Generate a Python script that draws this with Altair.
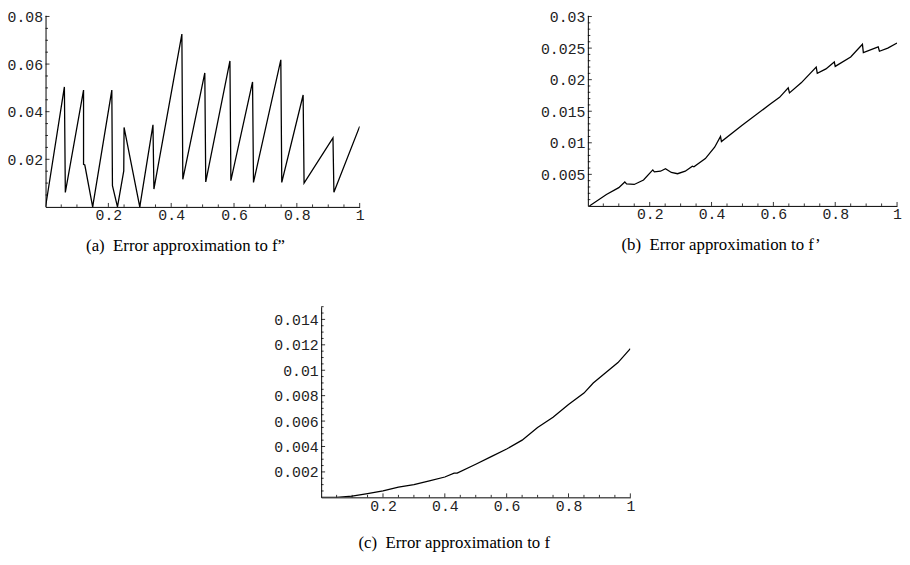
import altair as alt
import pandas as pd

# ---------------- data ----------------
# (a) Error approximation to f''
a_x = [0.0, 0.060, 0.063, 0.121, 0.121, 0.125, 0.150, 0.211, 0.213, 0.229, 0.249, 0.250,
       0.300, 0.342, 0.345, 0.434, 0.437, 0.507, 0.510, 0.587, 0.590, 0.659, 0.662,
       0.749, 0.752, 0.820, 0.823, 0.915, 0.918, 1.0]
a_y = [0.0, 0.0504, 0.0061, 0.0491, 0.0179, 0.0176, 0.0, 0.0491, 0.0089, 0.0, 0.0151, 0.0334,
       0.0, 0.0345, 0.0075, 0.0726, 0.0116, 0.0563, 0.0105, 0.0613, 0.0110, 0.0525, 0.0103,
       0.0618, 0.0103, 0.0470, 0.0100, 0.0290, 0.0062, 0.0338]

# (b) Error approximation to f'
b_x = [0.005, 0.06, 0.10, 0.1195, 0.125, 0.15, 0.18, 0.21, 0.215, 0.235, 0.251, 0.27, 0.29,
       0.315, 0.338, 0.343, 0.38, 0.41, 0.429, 0.432, 0.50, 0.589, 0.62, 0.648, 0.652, 0.69,
       0.7385, 0.742, 0.77, 0.797, 0.800, 0.85, 0.888, 0.891, 0.939, 0.943, 0.97, 1.0]
b_y = [0.0, 0.0018, 0.0029, 0.0038, 0.0035, 0.0034, 0.0041, 0.0057, 0.0054, 0.0055, 0.0059,
       0.0053, 0.0051, 0.0055, 0.0063, 0.0062, 0.0075, 0.0093, 0.0110, 0.0102, 0.0128, 0.0161,
       0.0172, 0.0187, 0.0179, 0.0195, 0.0220, 0.0210, 0.0217, 0.0228, 0.0221, 0.0236, 0.0256,
       0.0243, 0.0252, 0.0245, 0.0250, 0.0258]

# (c) Error approximation to f
c_x = [0.0, 0.05, 0.10, 0.15, 0.20, 0.25, 0.30, 0.35, 0.40, 0.43, 0.44, 0.50, 0.55, 0.60,
       0.65, 0.70, 0.75, 0.80, 0.85, 0.88, 0.92, 0.96, 1.0]
c_y = [0.0, 0.0, 0.0001, 0.0003, 0.0005, 0.0008, 0.0010, 0.0013, 0.0016, 0.0019, 0.0019,
       0.0026, 0.0032, 0.0038, 0.0045, 0.0055, 0.0063, 0.0073, 0.0082, 0.0090, 0.0098,
       0.0106, 0.0117]

x_labels = [0.2, 0.4, 0.6, 0.8, 1.0]
a_ylabels = [0.02, 0.04, 0.06, 0.08]
b_ylabels = [0.005, 0.01, 0.015, 0.02, 0.025, 0.03]
c_ylabels = [0.002, 0.004, 0.006, 0.008, 0.01, 0.012, 0.014]

GAP = "\u00a0\u00a0"
captions = ["(a)" + GAP + "Error approximation to f\u201d",
            "(b)" + GAP + "Error approximation to f\u2019",
            "(c)" + GAP + "Error approximation to f"]

MONO = "Liberation Mono"
SERIF = "Liberation Serif"


def minor(step, top, majors):
    out = []
    k = 1
    while k * step <= top + 1e-12:
        v = round(k * step, 6)
        if all(abs(v - m) > 1e-9 for m in majors):
            out.append(v)
        k += 1
    return out


def panel(xs_, ys_, ytop, ylabels, ystep, W, H, caption, cap_offset):
    df = pd.DataFrame({"x": xs_, "y": ys_, "i": list(range(len(xs_)))})
    xsc = alt.Scale(domain=[0, 1], nice=False, zero=False)
    ysc = alt.Scale(domain=[0, ytop], nice=False, zero=False)
    common = dict(format="~g", ticks=False, grid=False, title=None,
                  labelFont=MONO, labelFontSize=15, labelColor="#222222",
                  domainColor="#000000", domainWidth=1, labelFlush=False,
                  labelOverlap=False)
    xax = alt.Axis(values=x_labels, labelPadding=1, **common)
    yax = alt.Axis(values=ylabels, labelPadding=3, **common)
    line = alt.Chart(df).mark_line(color="black", strokeWidth=1.3, clip=True).encode(
        x=alt.X("x:Q", scale=xsc, axis=xax),
        y=alt.Y("y:Q", scale=ysc, axis=yax),
        order="i:Q",
    )
    xmaj = pd.DataFrame({"x": x_labels})
    xmin = pd.DataFrame({"x": minor(0.05, 1.0, x_labels)})
    ymaj = pd.DataFrame({"y": ylabels})
    ymin = pd.DataFrame({"y": minor(ystep, ytop, ylabels)})
    rule = dict(color="black", strokeWidth=0.8)
    l1 = alt.Chart(xmaj).mark_rule(**rule).encode(
        x=alt.X("x:Q", scale=xsc, axis=xax), y=alt.value(H), y2=alt.value(H - 4))
    l2 = alt.Chart(xmin).mark_rule(**rule).encode(
        x=alt.X("x:Q", scale=xsc, axis=xax), y=alt.value(H), y2=alt.value(H - 2.5))
    l3 = alt.Chart(ymaj).mark_rule(**rule).encode(
        y=alt.Y("y:Q", scale=ysc, axis=yax), x=alt.value(0), x2=alt.value(4))
    l4 = alt.Chart(ymin).mark_rule(**rule).encode(
        y=alt.Y("y:Q", scale=ysc, axis=yax), x=alt.value(0), x2=alt.value(2.5))
    return alt.layer(line, l1, l2, l3, l4).properties(
        width=W, height=H,
        title=alt.TitleParams(text=caption, orient="bottom", anchor="middle",
                              frame="bounds", font=SERIF, fontSize=17,
                              fontWeight="normal", color="black", offset=cap_offset),
    )


pa = panel(a_x, a_y, 0.0805, a_ylabels, 0.005, 318, 194, captions[0], 16)
pb = panel(b_x, b_y, 0.0302, b_ylabels, 0.001, 313, 193, captions[1], 16)
pc = panel(c_x, c_y, 0.0150, c_ylabels, 0.0005, 313, 193, captions[2], 22)

# invisible spacer that pushes panel (c) to its place under the two upper panels
spacer = alt.Chart(pd.DataFrame({"v": [0]})).mark_point(opacity=0).encode(
    x=alt.value(0), y=alt.value(0)
).properties(width=230, height=10)

row = alt.hconcat(pa, pb, spacing=177)
bottom = alt.hconcat(spacer, pc, spacing=0)
chart = alt.vconcat(row, bottom, spacing=50).properties(
    padding={"left": -2, "top": -2, "right": 0, "bottom": 0}, background="white"
).configure_view(stroke=None)

chart.save("out.html", embed_options={"renderer": "svg", "actions": False})
